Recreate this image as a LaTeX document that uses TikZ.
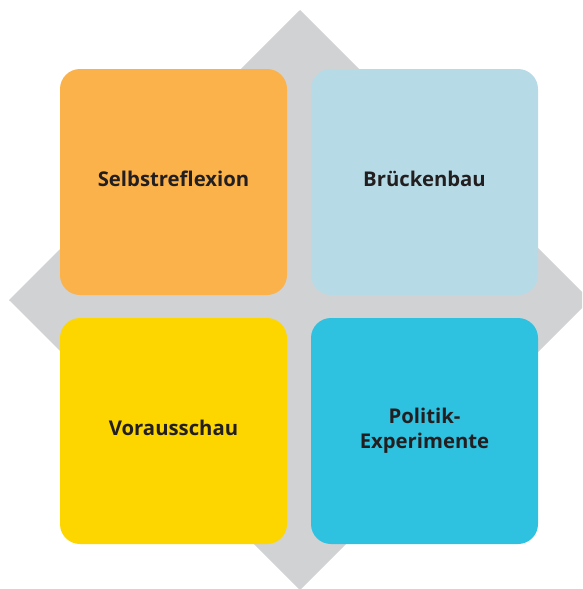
\documentclass[tikz,border=0pt]{standalone}
\usepackage{fontspec}
\setmainfont{Open Sans}
\usepackage{xcolor}

\definecolor{rautegrau}{HTML}{D1D2D4}
\definecolor{orangefeld}{HTML}{FBB24A}
\definecolor{hellblaufeld}{HTML}{B7DBE6}
\definecolor{gelbfeld}{HTML}{FDD600}
\definecolor{cyanfeld}{HTML}{2EC1E0}
\definecolor{textgrau}{HTML}{231F20}

\tikzset{
	feld/.style={rounded corners=20pt, minimum width=227pt, minimum height=226pt, inner sep=0pt,
		text depth=6pt, align=center, font=\fontsize{20.3}{25}\selectfont\bfseries, text=textgrau},
}

\begin{document}
\begin{tikzpicture}[x=1pt,y=-1pt]
		      		\useasboundingbox (0,0) rectangle (582,589);
		      		\clip (0,0) rectangle (582,589);

		      		\fill[rautegrau] (300,10) -- (590,300) -- (300,590) -- (9,300) -- cycle;

		      		\node[feld, fill=orangefeld] (selbst) at (173.5,182) {Selbstreflexion};
		      		\node[feld, fill=hellblaufeld] (bruecke) at (424.5,182) {Brückenbau};
		      		\node[feld, fill=gelbfeld] (voraus) at (173.5,431) {Vorausschau};
		      		\node[feld, fill=cyanfeld] (politik) at (424.5,431) {Politik-\\Experimente};
		      	\end{tikzpicture}
\end{document}
